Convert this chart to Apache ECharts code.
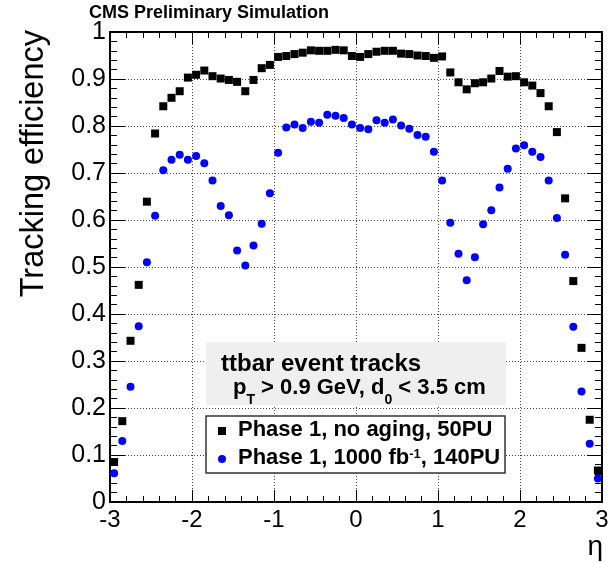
<!DOCTYPE html>
<html>
  <head>
    <meta charset="utf-8" />
    <title>Tracking efficiency</title>
    <script src="https://cdn.jsdelivr.net/npm/echarts@6/dist/echarts.min.js"></script>
    <style>
      html, body { margin: 0; padding: 0; background: #fff; }
    </style>
  </head>

  <body>
    <div id="main" style="width: 608px; height: 563px"></div>

    <script>
      // bin centres in eta
      var eta = [
        -2.95, -2.85, -2.75, -2.65, -2.55, -2.45, -2.35, -2.25, -2.15, -2.05,
        -1.95, -1.85, -1.75, -1.65, -1.55, -1.45, -1.35, -1.25, -1.15, -1.05,
        -0.95, -0.85, -0.75, -0.65, -0.55, -0.45, -0.35, -0.25, -0.15, -0.05,
        0.05, 0.15, 0.25, 0.35, 0.45, 0.55, 0.65, 0.75, 0.85, 0.95,
        1.05, 1.15, 1.25, 1.35, 1.45, 1.55, 1.65, 1.75, 1.85, 1.95,
        2.05, 2.15, 2.25, 2.35, 2.45, 2.55, 2.65, 2.75, 2.85, 2.95
      ];

      // Phase 1, no aging, 50PU
      var effNoAging = [
        0.085, 0.172, 0.343, 0.462, 0.639, 0.784, 0.842, 0.860, 0.874, 0.903,
        0.909, 0.918, 0.906, 0.901, 0.898, 0.894, 0.874, 0.898, 0.923, 0.930,
        0.947, 0.949, 0.953, 0.956, 0.961, 0.960, 0.960, 0.962, 0.961, 0.949,
        0.947, 0.953, 0.958, 0.960, 0.960, 0.954, 0.953, 0.950, 0.949, 0.945,
        0.948, 0.914, 0.893, 0.878, 0.891, 0.893, 0.901, 0.917, 0.905, 0.906,
        0.893, 0.886, 0.870, 0.842, 0.787, 0.646, 0.470, 0.328, 0.175, 0.067
      ];

      // Phase 1, 1000 fb-1, 140PU
      var eff1000 = [
        0.061, 0.130, 0.245, 0.374, 0.510, 0.609, 0.706, 0.728, 0.739, 0.728,
        0.736, 0.721, 0.684, 0.630, 0.610, 0.535, 0.503, 0.546, 0.592, 0.657,
        0.743, 0.797, 0.803, 0.796, 0.809, 0.807, 0.824, 0.822, 0.817, 0.803,
        0.796, 0.793, 0.812, 0.807, 0.814, 0.801, 0.794, 0.781, 0.777, 0.745,
        0.684, 0.594, 0.528, 0.472, 0.521, 0.591, 0.621, 0.669, 0.709, 0.752,
        0.759, 0.745, 0.734, 0.684, 0.604, 0.526, 0.373, 0.235, 0.124, 0.050
      ];

      var seriesNames = ["Phase 1, no aging, 50PU", "Phase 1, 1000 fb-1, 140PU"];

      function pairs(ys) {
        var out = [];
        for (var i = 0; i < eta.length; i++) out.push([eta[i], ys[i]]);
        return out;
      }

      var FONT = "Liberation Sans";
      var myChart = echarts.init(document.getElementById("main"), null, { renderer: "canvas" });

      // ROOT style axis: ticks inside, dotted grid
      function xAx(pos, labels) {
        return {
          type: "value",
          position: pos,
          min: -3,
          max: 3,
          interval: 1,
          axisLine: { show: true, onZero: false, lineStyle: { color: "#000", width: 2 } },
          axisTick: { show: true, inside: true, length: 12, lineStyle: { color: "#000", width: 1 } },
          minorTick: { show: true, splitNumber: 5, length: 6, lineStyle: { color: "#000", width: 1 } },
          axisLabel: {
            show: labels,
            margin: 6,
            fontSize: 24,
            fontFamily: FONT,
            color: "#000"
          },
          splitLine: {
            show: labels,
            lineStyle: { color: "#444", width: 1, type: [1, 2] }
          }
        };
      }

      function yAx(pos, labels) {
        return {
          type: "value",
          position: pos,
          min: 0,
          max: 1,
          interval: 0.1,
          axisLine: { show: true, onZero: false, lineStyle: { color: "#000", width: 2 } },
          axisTick: { show: true, inside: true, length: 15, lineStyle: { color: "#000", width: 1 } },
          minorTick: { show: true, splitNumber: 5, length: 7, lineStyle: { color: "#000", width: 1 } },
          axisLabel: {
            show: labels,
            margin: 4,
            fontSize: 25,
            fontFamily: FONT,
            color: "#000"
          },
          splitLine: {
            show: labels,
            lineStyle: { color: "#444", width: 1, type: [1, 2] }
          }
        };
      }

      var option = {
        backgroundColor: "#fff",
        animation: false,
        title: {
          text: "CMS Preliminary Simulation",
          left: 89,
          top: 4,
          padding: 0,
          textStyle: { fontSize: 18, fontWeight: "bold", fontFamily: FONT, color: "#000" }
        },
        grid: { left: 110, right: 6, top: 32, bottom: 61, containLabel: false, outerBoundsMode: "none" },
        xAxis: [xAx("bottom", true), xAx("top", false)],
        yAxis: [yAx("left", true), yAx("right", false)],
        legend: {
          left: 218,
          top: 419,
          orient: "vertical",
          padding: 0,
          itemGap: 6,
          itemWidth: 8,
          itemHeight: 8,
          z: 10,
          selectedMode: false,
          data: [
            { name: seriesNames[0], icon: "rect" },
            { name: seriesNames[1], icon: "circle" }
          ],
          formatter: function (name) {
            if (name === seriesNames[1]) {
              return "{g| }{n|Phase 1, 1000 fb}{sup|-1}{n|, 140PU}";
            }
            return "{g| }{n|" + name + "}";
          },
          textStyle: {
            rich: {
              g: { width: 7, fontSize: 10 },
              n: { fontSize: 22, fontWeight: "bold", fontFamily: FONT, color: "#000", lineHeight: 24, verticalAlign: "top" },
              sup: { fontSize: 13, fontWeight: "bold", fontFamily: FONT, color: "#000", lineHeight: 13, verticalAlign: "top", padding: [1, 0, 0, 0] }
            }
          }
        },
        graphic: [
          // grey text box
          {
            type: "rect",
            z: 5,
            shape: { x: 206, y: 342, width: 300, height: 63 },
            style: { fill: "#efefef" }
          },
          {
            type: "text",
            z: 6,
            x: 221,
            y: 364,
            style: {
              text: "ttbar event tracks",
              fontSize: 24,
              fontWeight: "bold",
              fontFamily: FONT,
              fill: "#000",
              verticalAlign: "middle"
            }
          },
          {
            type: "text",
            z: 6,
            x: 233,
            y: 377,
            style: {
              text: "{n|p}{s|T}{n| > 0.9 GeV, d}{s|0}{n| < 3.5 cm}",
              verticalAlign: "top",
              rich: {
                n: { fontSize: 22, fontWeight: "bold", fontFamily: FONT, fill: "#000", lineHeight: 22, verticalAlign: "top" },
                s: { fontSize: 14, fontWeight: "bold", fontFamily: FONT, fill: "#000", lineHeight: 14, verticalAlign: "top", padding: [16, 0, 0, 0] }
              }
            }
          },
          // legend frame
          {
            type: "rect",
            z: 5,
            shape: { x: 206, y: 416, width: 299, height: 57 },
            style: { fill: "#fff", stroke: "#333", lineWidth: 1.5 }
          },
          // axis titles
          {
            type: "text",
            x: 34,
            y: 30,
            rotation: Math.PI / 2,
            style: {
              text: "Tracking efficiency",
              fontSize: 32.5,
              fontFamily: FONT,
              fill: "#000",
              align: "right",
              verticalAlign: "middle"
            }
          },
          {
            type: "text",
            x: 603,
            y: 547,
            style: {
              text: "η",
              fontSize: 28,
              fontFamily: FONT,
              fill: "#000",
              align: "right",
              verticalAlign: "middle"
            }
          }
        ],
        series: [
          {
            name: seriesNames[0],
            type: "scatter",
            symbol: "rect",
            symbolSize: 8,
            itemStyle: { color: "#000", opacity: 1 },
            data: pairs(effNoAging)
          },
          {
            name: seriesNames[1],
            type: "scatter",
            symbol: "circle",
            symbolSize: 8,
            itemStyle: { color: "#0000ff", opacity: 1 },
            data: pairs(eff1000)
          }
        ]
      };

      myChart.setOption(option);
    </script>
  </body>
</html>
